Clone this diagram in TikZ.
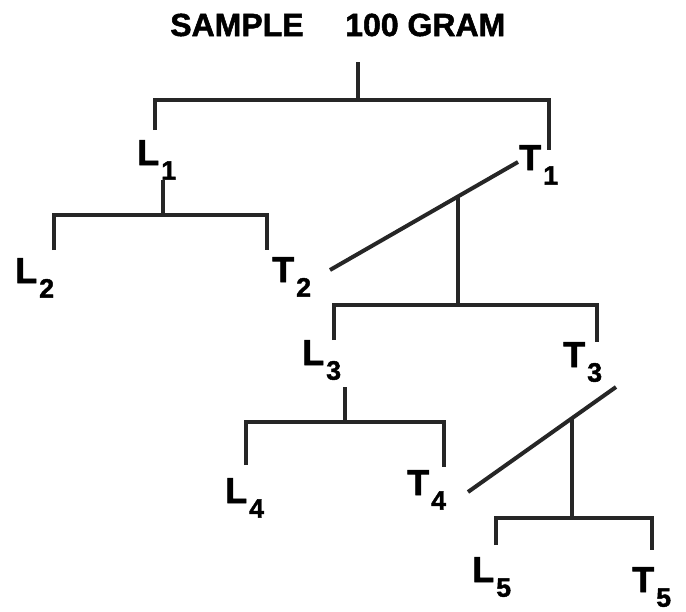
\documentclass[tikz,border=0pt]{standalone}
\usepackage{fontspec}
\setmainfont{Liberation Sans}
% a heavier face for all the printed text
\newfontfamily\heavy[FakeBold=1.6]{Liberation Sans Bold}
% letter with a large lowered index, as in L_1, T_2
\newcommand{\lbl}[2]{#1\kern1.5pt\raisebox{-11pt}{\fontsize{20}{20}\selectfont #2}}
\begin{document}
\begin{tikzpicture}[x=0.75pt,y=-0.75pt,
  bar/.style={line width=3pt, draw=black!85, line cap=butt, line join=miter},
  lab/.style={inner sep=0pt, anchor=base west, font=\fontsize{27}{27}\heavy},
  ttl/.style={inner sep=0pt, anchor=base west, font=\fontsize{24}{24}\heavy}]
\useasboundingbox (0,0) rectangle (686,611);

% title
\node[ttl] (sample) at (170,36) {SAMPLE};
\node[ttl] (gram) at (345,36) {100 GRAM};

% labels
\node[lab] (L1) at (137,165) {\lbl{L}{1}};
\node[lab] (T1) at (519,170) {\lbl{T}{1}};
\node[lab] (L2) at (15,283) {\lbl{L}{2}};
\node[lab] (T2) at (272,282) {\lbl{T}{2}};
\node[lab] (L3) at (302,365) {\lbl{L}{3}};
\node[lab] (T3) at (563,367) {\lbl{T}{3}};
\node[lab] (L4) at (225,503) {\lbl{L}{4}};
\node[lab] (T4) at (407,495) {\lbl{T}{4}};
\node[lab] (L5) at (472,582) {\lbl{L}{5}};
\node[lab] (T5) at (632,592) {\lbl{T}{5}};

% junction points and line ends
\coordinate (s0) at (358,62);   \coordinate (s1) at (358,100);
\coordinate (a0) at (155,130);  \coordinate (a1) at (155,100);
\coordinate (b1) at (549,100);  \coordinate (b0) at (549,150);

\coordinate (l1t) at (163,180); \coordinate (l1b) at (163,215);
\coordinate (c0) at (54,250);   \coordinate (c1) at (54,215);
\coordinate (d1) at (267,215);  \coordinate (d0) at (267,250);

\coordinate (e0) at (330,270);  \coordinate (e1) at (518,162);
\coordinate (ej) at (458,196);  \coordinate (eb) at (458,305);
\coordinate (f0) at (334,340);  \coordinate (f1) at (334,305);
\coordinate (g1) at (597,305);  \coordinate (g0) at (597,342);

\coordinate (l3t) at (345,387); \coordinate (l3b) at (345,422);
\coordinate (h0) at (246,465);  \coordinate (h1) at (246,422);
\coordinate (i1) at (444,422);  \coordinate (i0) at (444,467);

\coordinate (k0) at (468,492);  \coordinate (k1) at (616,387);
\coordinate (kj) at (572,418);  \coordinate (kb) at (572,518);
\coordinate (m0) at (496,545);  \coordinate (m1) at (496,518);
\coordinate (n1) at (652,518);  \coordinate (n0) at (652,550);

% sample splits into L1 and T1
\draw[bar] (s0) -- (s1);
\draw[bar] (a0) -- (a1) -- (b1) -- (b0);
% L1 splits into L2 and T2
\draw[bar] (l1t) -- (l1b);
\draw[bar] (c0) -- (c1) -- (d1) -- (d0);
% T1 and T2 combined, split into L3 and T3
\draw[bar] (e0) -- (e1);
\draw[bar] (ej) -- (eb);
\draw[bar] (f0) -- (f1) -- (g1) -- (g0);
% L3 splits into L4 and T4
\draw[bar] (l3t) -- (l3b);
\draw[bar] (h0) -- (h1) -- (i1) -- (i0);
% T3 and T4 combined, split into L5 and T5
\draw[bar] (k0) -- (k1);
\draw[bar] (kj) -- (kb);
\draw[bar] (m0) -- (m1) -- (n1) -- (n0);
\end{tikzpicture}
\end{document}
